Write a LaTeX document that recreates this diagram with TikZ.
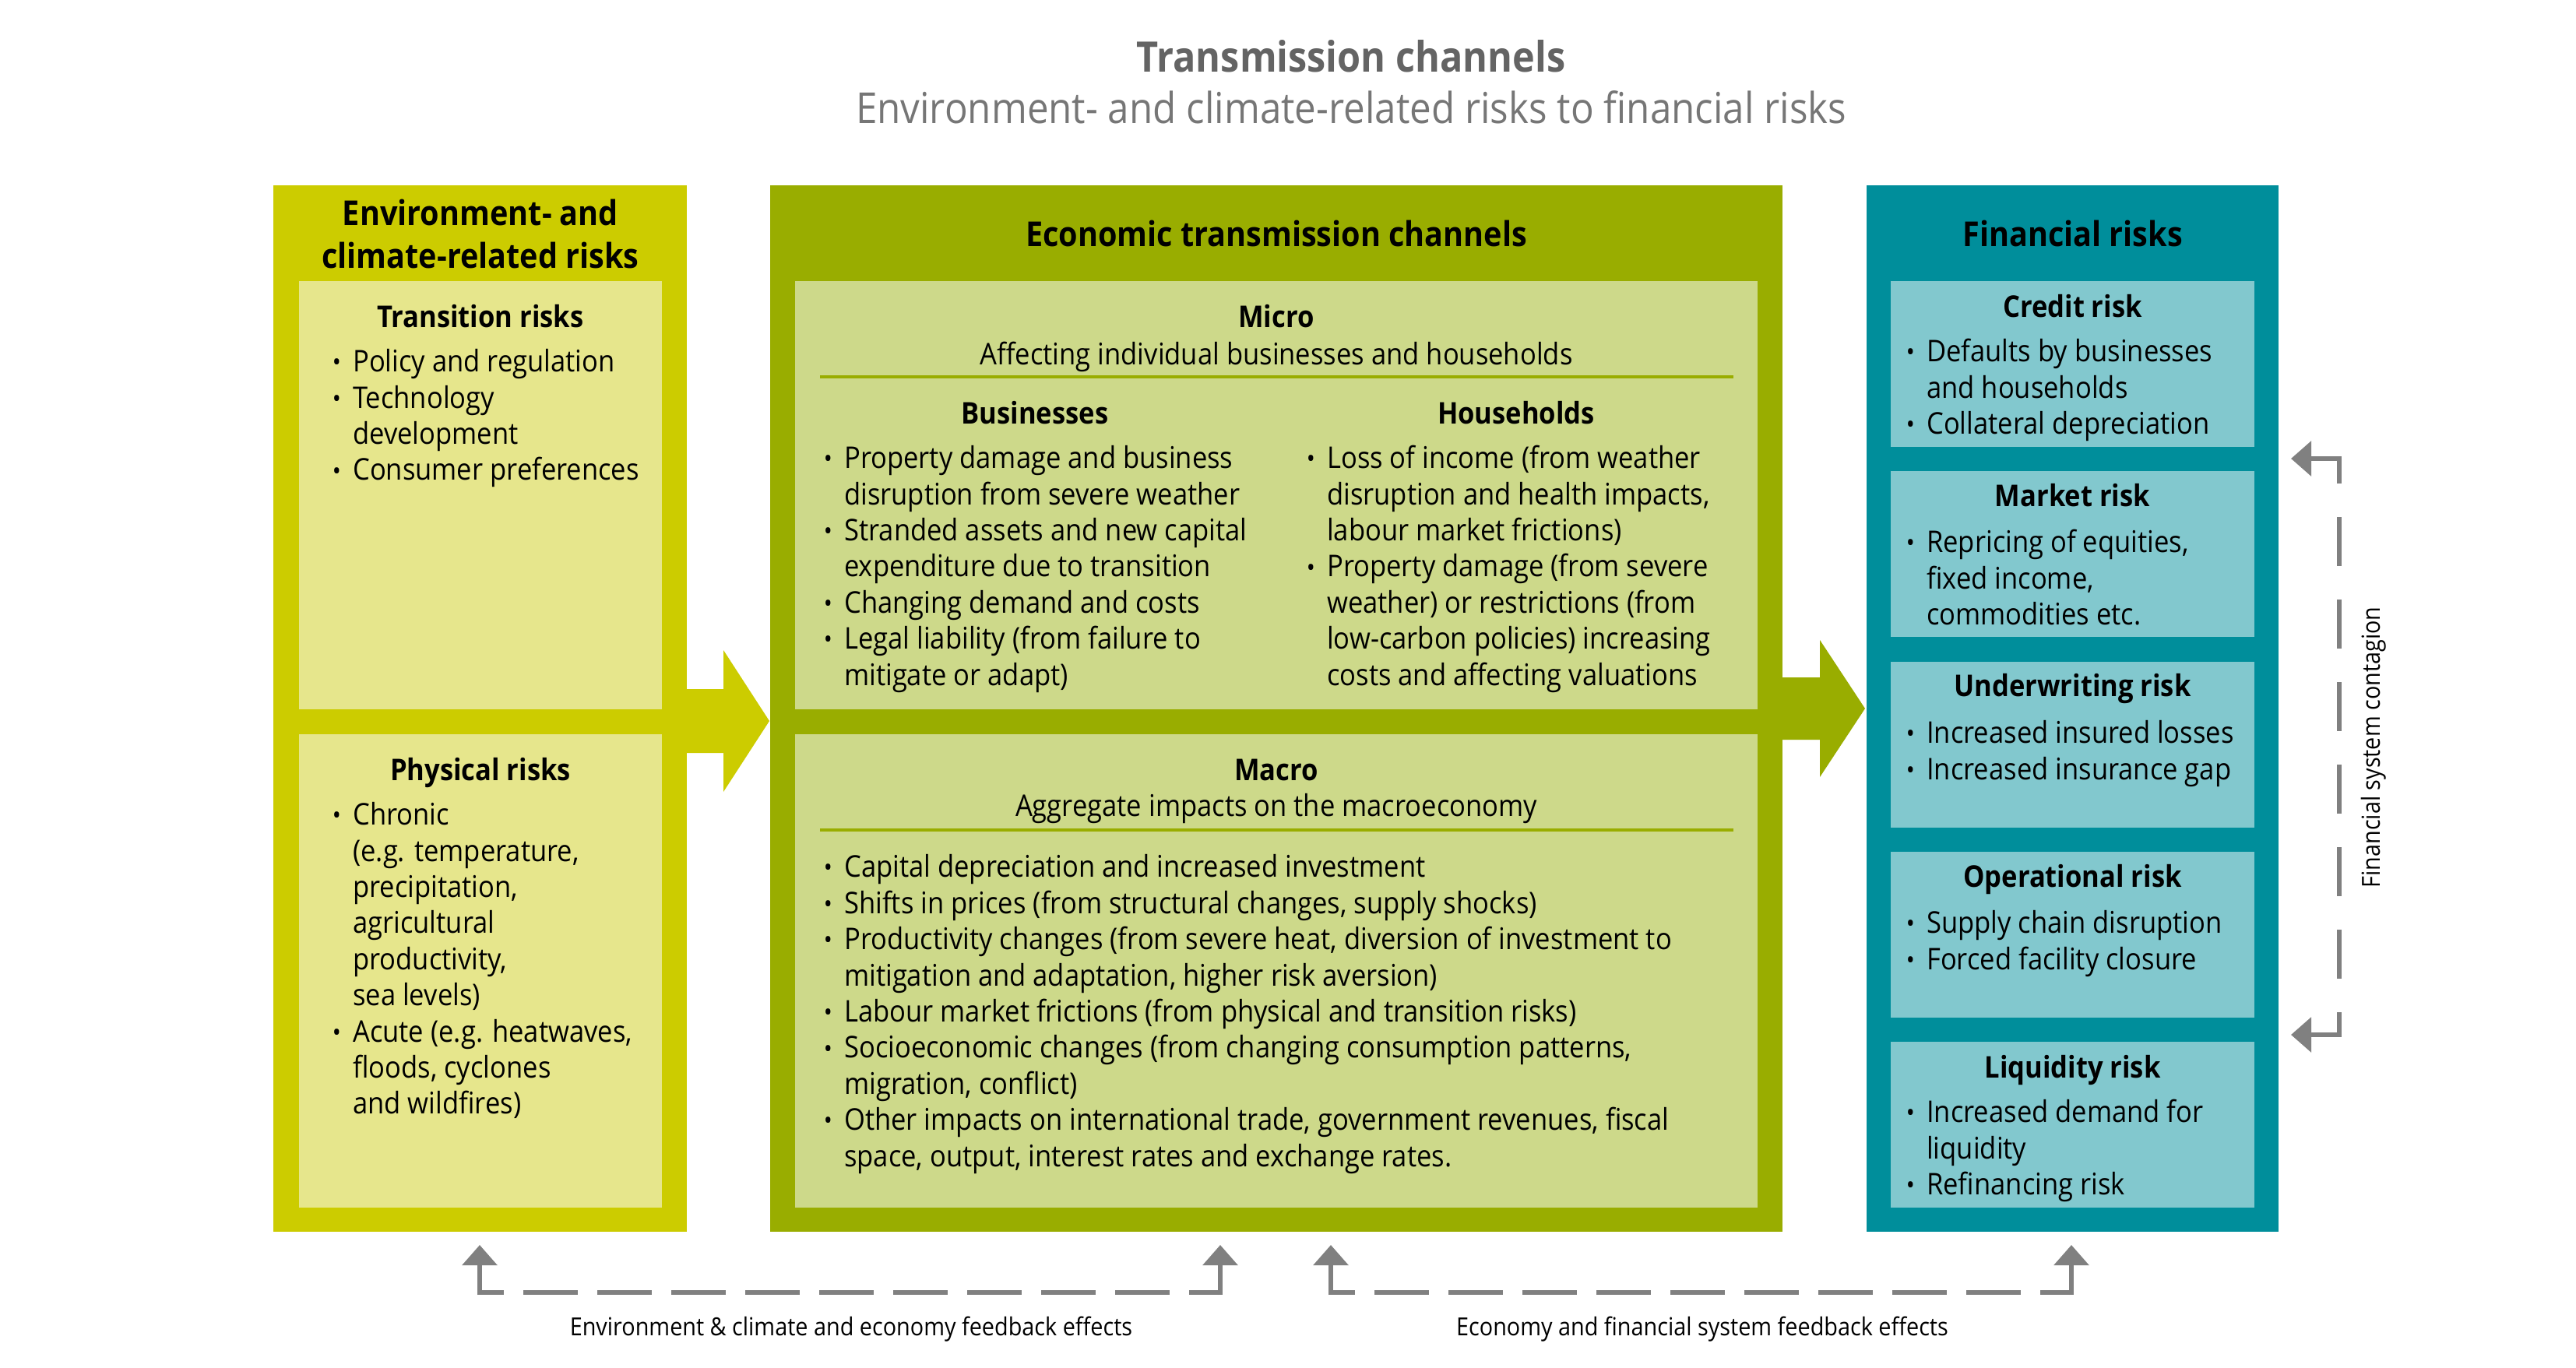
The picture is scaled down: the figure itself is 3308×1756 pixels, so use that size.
\documentclass[tikz,border=0pt]{standalone}
\usepackage{fontspec}
\setmainfont{Open Sans}[FakeStretch=0.9]
\usetikzlibrary{arrows.meta}
\definecolor{envdark}{RGB}{204,204,0}
\definecolor{envlight}{RGB}{230,230,140}
\definecolor{ecodark}{RGB}{153,173,0}
\definecolor{ecolight}{RGB}{205,217,138}
\definecolor{findark}{RGB}{0,142,155}
\definecolor{finlight}{RGB}{130,200,206}
\definecolor{fbgray}{RGB}{128,128,128}
\definecolor{titlegray}{RGB}{100,100,100}
\definecolor{subgray}{RGB}{118,118,118}
\newcommand{\bl}{\makebox[6.6pt][l]{\raisebox{0.2pt}{\scalebox{0.85}{\textbullet}}}}
\newcommand{\ind}{\hspace*{6.6pt}}
\begin{document}
\begin{tikzpicture}[x=0.25pt,y=-0.25pt,
  box/.style={rectangle, inner sep=0pt, outer sep=0pt, draw=none},
  hd/.style={font=\fontsize{11}{13}\selectfont\bfseries, inner sep=0pt, anchor=base},
  sub/.style={font=\fontsize{9.6}{11.6}\selectfont\bfseries, inner sep=0pt, anchor=base},
  ctr/.style={font=\fontsize{9.6}{11.6}\selectfont, inner sep=0pt, anchor=base},
  txt/.style={font=\fontsize{9.6}{11.6}\selectfont, inner sep=0pt, anchor=north west, align=left},
  fb/.style={draw=fbgray, line width=1.5pt},
  fbarrow/.style={fb, -{Triangle[length=6.5pt,width=11pt]}, shorten <=-0.75pt},
  lbl/.style={font=\fontsize{8}{9.6}\selectfont, inner sep=0pt, anchor=base},
  divider/.style={draw=ecodark, line width=1pt}]
\fill[white] (0,0) rectangle (3308,1756);
\useasboundingbox (0,0) rectangle (3308,1756);

% title
\node[font=\fontsize{13.5}{16}\selectfont\bfseries, text=titlegray, inner sep=0pt, anchor=base] (title) at (1735,93) {Transmission channels};
\node[font=\fontsize{13.7}{16}\selectfont, text=subgray, inner sep=0pt, anchor=base] (subtitle) at (1735,158) {Environment- and climate-related risks to financial risks};

% outer boxes
\node[box, fill=envdark, minimum width=132.75pt, minimum height=336pt] (env) at (616.5,910) {};
\node[box, fill=ecodark, minimum width=325pt, minimum height=336pt] (eco) at (1639,910) {};
\node[box, fill=findark, minimum width=132.25pt, minimum height=336pt] (fin) at (2661.5,910) {};

% block arrows
\fill[envdark] (870,885) -- (929,885) -- (929,835) -- (988,926) -- (929,1017) -- (929,967) -- (870,967) -- cycle;
\fill[ecodark] (2280,870) -- (2337,870) -- (2337,822) -- (2395,910) -- (2337,998) -- (2337,950) -- (2280,950) -- cycle;

% inner boxes
\node[box, fill=envlight, minimum width=116.5pt, minimum height=137.5pt] (trans) at (617,636) {};
\node[box, fill=envlight, minimum width=116.5pt, minimum height=152pt] (phys) at (617,1247) {};
\node[box, fill=ecolight, minimum width=309pt, minimum height=137.5pt] (micro) at (1639,636) {};
\node[box, fill=ecolight, minimum width=309pt, minimum height=152pt] (macro) at (1639,1247) {};
\node[box, fill=finlight, minimum width=116.75pt, minimum height=53.25pt] (credit) at (2661.5,467.5) {};
\node[box, fill=finlight, minimum width=116.75pt, minimum height=53.25pt] (market) at (2661.5,711.5) {};
\node[box, fill=finlight, minimum width=116.75pt, minimum height=53.25pt] (under) at (2661.5,956.5) {};
\node[box, fill=finlight, minimum width=116.75pt, minimum height=53.25pt] (oper) at (2661.5,1200.5) {};
\node[box, fill=finlight, minimum width=116.75pt, minimum height=53.25pt] (liqu) at (2661.5,1444.5) {};

% headings
\node[hd] (envh1) at (617,289) {Environment- and};
\node[hd] (envh2) at (617,344) {climate-related risks};
\node[hd] (ecoh) at (1639,316) {Economic transmission channels};
\node[hd] (finh) at (2661.5,316) {Financial risks};

% left column
\node[sub] (transh) at (617,420) {Transition risks};
\node[txt] (transt) at (426,444.5) {\strut\bl Policy and regulation\\
\bl Technology\\
\ind development\\
\bl Consumer preferences};
\node[sub] (physh) at (617,1002) {Physical risks};
\node[txt] (physt) at (426,1026.5) {\strut\bl Chronic\\
\ind (e.g. temperature,\\
\ind precipitation,\\
\ind agricultural\\
\ind productivity,\\
\ind sea levels)\\
\bl Acute (e.g. heatwaves,\\
\ind floods, cyclones\\
\ind and wildfires)};

% micro
\node[sub] (microh) at (1639,420) {Micro};
\node[ctr] (microsub) at (1639,468) {Affecting individual businesses and households};
\draw[divider] (1053,484) -- (2226,484);
\node[sub] (bush) at (1329,544) {Businesses};
\node[sub] (hoh) at (1947,544) {Households};
\node[txt] (bust) at (1057,568.5) {\strut\bl Property damage and business\\
\ind disruption from severe weather\\
\bl Stranded assets and new capital\\
\ind expenditure due to transition\\
\bl Changing demand and costs\\
\bl Legal liability (from failure to\\
\ind mitigate or adapt)};
\node[txt] (hot) at (1677,568.5) {\strut\bl Loss of income (from weather\\
\ind disruption and health impacts,\\
\ind labour market frictions)\\
\bl Property damage (from severe\\
\ind weather) or restrictions (from\\
\ind low-carbon policies) increasing\\
\ind costs and affecting valuations};

% macro
\node[sub] (macroh) at (1639,1002) {Macro};
\node[ctr] (macrosub) at (1639,1048) {Aggregate impacts on the macroeconomy};
\draw[divider] (1053,1066) -- (2226,1066);
\node[txt] (macrot) at (1057,1093.5) {\strut\bl Capital depreciation and increased investment\\
\bl Shifts in prices (from structural changes, supply shocks)\\
\bl Productivity changes (from severe heat, diversion of investment to\\
\ind mitigation and adaptation, higher risk aversion)\\
\bl Labour market frictions (from physical and transition risks)\\
\bl Socioeconomic changes (from changing consumption patterns,\\
\ind migration, conflict)\\
\bl Other impacts on international trade, government revenues, fiscal\\
\ind space, output, interest rates and exchange rates.};

% financial risks
\node[sub] (credh) at (2661.5,407) {Credit risk};
\node[txt] (credt) at (2447,431.5) {\strut\bl Defaults by businesses\\
\ind and households\\
\bl Collateral depreciation};
\node[sub] (markh) at (2661.5,650) {Market risk};
\node[txt] (markt) at (2447,676.5) {\strut\bl Repricing of equities,\\
\ind fixed income,\\
\ind commodities etc.};
\node[sub] (undh) at (2661.5,894) {Underwriting risk};
\node[txt] (undt) at (2447,921.5) {\strut\bl Increased insured losses\\
\bl Increased insurance gap};
\node[sub] (operh) at (2661.5,1139) {Operational risk};
\node[txt] (opert) at (2447,1165.5) {\strut\bl Supply chain disruption\\
\bl Forced facility closure};
\node[sub] (liquh) at (2661.5,1384) {Liquidity risk};
\node[txt] (liqut) at (2447,1408.5) {\strut\bl Increased demand for\\
\ind liquidity\\
\bl Refinancing risk};

% feedback connectors
\coordinate (f1a) at (616,1599);
\coordinate (f1b) at (616,1660);
\coordinate (f1c) at (1567,1660);
\coordinate (f1d) at (1567,1599);
\coordinate (f2a) at (1709,1599);
\coordinate (f2b) at (1709,1660);
\coordinate (f2c) at (2660,1660);
\coordinate (f2d) at (2660,1599);
\draw[fb, dash pattern=on 17.5pt off 6.25pt, dash phase=9.75pt] (f1b) -- (f1c);
\draw[fbarrow] (f1b) -- (f1a);
\draw[fbarrow] (f1c) -- (f1d);
\draw[fb, dash pattern=on 17.5pt off 6.25pt, dash phase=9.75pt] (f2b) -- (f2c);
\draw[fbarrow] (f2b) -- (f2a);
\draw[fbarrow] (f2c) -- (f2d);
\node[lbl] (l1) at (1093,1715) {Environment \& climate and economy feedback effects};
\node[lbl] (l2) at (2186,1715) {Economy and financial system feedback effects};

% contagion
\coordinate (c1a) at (2942,589);
\coordinate (c1b) at (3004,589);
\coordinate (c2b) at (3004,1329);
\coordinate (c2a) at (2942,1329);
\draw[fb, dash pattern=on 15.75pt off 10.75pt, dash phase=7.75pt] (c1b) -- (c2b);
\draw[fbarrow] (c1b) -- (c1a);
\draw[fbarrow] (c2b) -- (c2a);
\node[lbl, anchor=center, rotate=90] (l3) at (3048,960) {Financial system contagion};
\end{tikzpicture}
\end{document}
